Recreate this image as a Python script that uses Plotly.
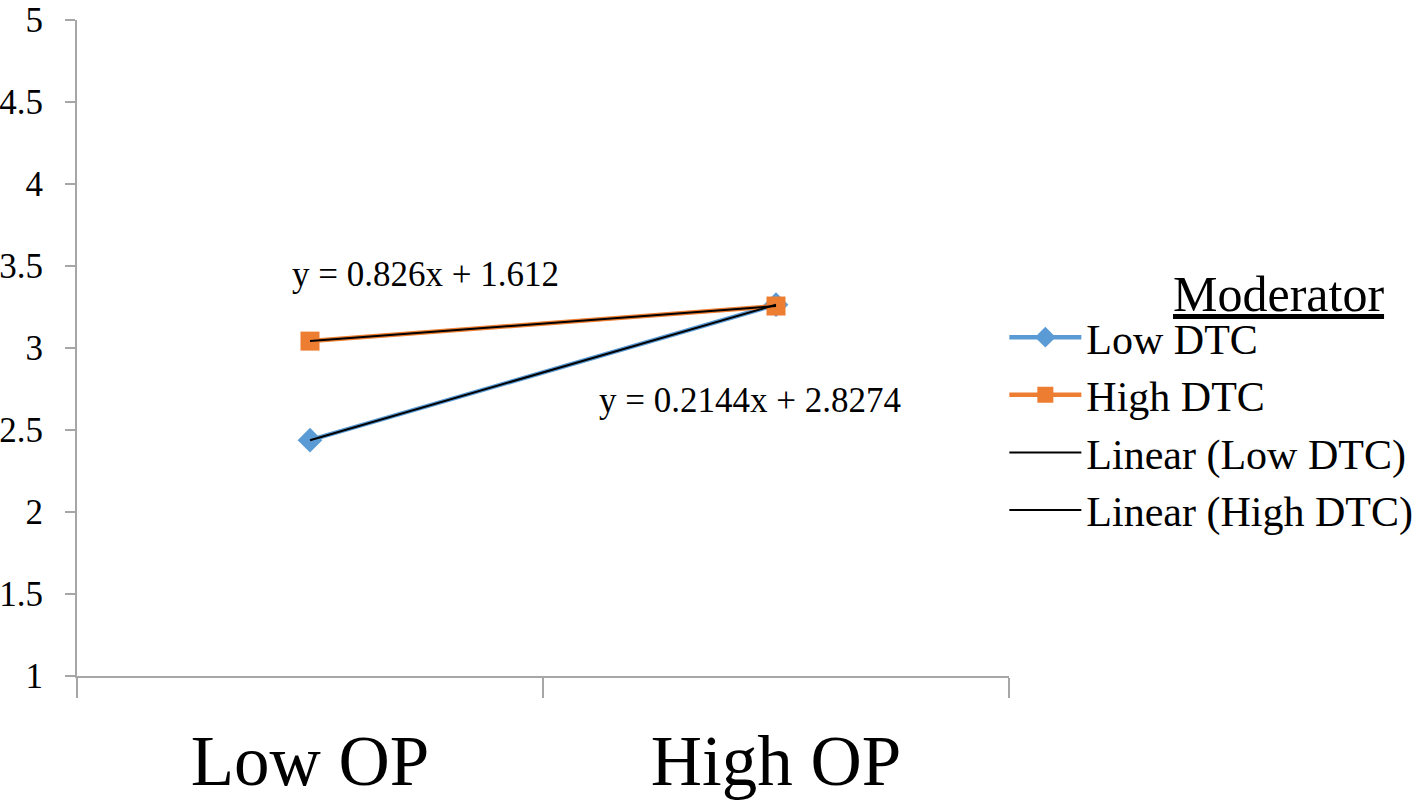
import numpy as np
import plotly.graph_objects as go

# Data
categories = ["Low OP", "High OP"]
low_dtc = [2.438, 3.264]
high_dtc = [3.042, 3.256]
eq_low = "y = 0.826x + 1.612"
eq_high = "y = 0.2144x + 2.8274"

FONT = "Liberation Serif, Times New Roman, serif"
BLUE = "#5B9BD5"
ORANGE = "#ED7D31"
AXIS = "#A6A6A6"

# linear trend lines (Excel style), x = 1, 2
xs = np.arange(1, len(categories) + 1)
fit_low = np.polyval(np.polyfit(xs, low_dtc, 1), xs)
fit_high = np.polyval(np.polyfit(xs, high_dtc, 1), xs)

fig = go.Figure()

fig.add_trace(go.Scatter(
    x=categories, y=low_dtc, name="Low DTC", mode="lines+markers",
    line=dict(color=BLUE, width=4.5),
    marker=dict(symbol="diamond", size=19, color=BLUE)
))
fig.add_trace(go.Scatter(
    x=categories, y=high_dtc, name="High DTC", mode="lines+markers",
    line=dict(color=ORANGE, width=4.5),
    marker=dict(symbol="square", size=19, color=ORANGE)
))
fig.add_trace(go.Scatter(
    x=categories, y=fit_low, name="Linear (Low DTC)", mode="lines",
    line=dict(color="black", width=2)
))
fig.add_trace(go.Scatter(
    x=categories, y=fit_high, name="Linear (High DTC)", mode="lines",
    line=dict(color="black", width=2)
))

# equation labels
fig.add_annotation(x=-0.043, y=3.45, xref="x", yref="y", text=eq_low,
                   showarrow=False, xanchor="left", yanchor="middle",
                   font=dict(family=FONT, size=35, color="black"))
fig.add_annotation(x=0.616, y=2.677, xref="x", yref="y", text=eq_high,
                   showarrow=False, xanchor="left", yanchor="middle",
                   font=dict(family=FONT, size=35, color="black"))

# legend heading
fig.add_annotation(x=1.2887, y=0.582, xref="paper", yref="paper",
                   text="<u>Moderator</u>", showarrow=False,
                   xanchor="center", yanchor="middle",
                   font=dict(family=FONT, size=50, color="black"))

fig.update_layout(
    width=1421, height=804,
    margin=dict(l=77, r=412, t=20, b=128, autoexpand=False),
    paper_bgcolor="white", plot_bgcolor="white",
    font=dict(family=FONT, color="black"),
    legend=dict(
        x=0.995, y=0.568, xanchor="left", yanchor="top",
        font=dict(family=FONT, size=42, color="black"),
        itemwidth=72, tracegroupgap=0, bgcolor="rgba(0,0,0,0)"
    ),
    xaxis=dict(
        type="category", range=[-0.5, 1.5], automargin=False,
        showline=True, linecolor=AXIS, linewidth=2,
        showgrid=False, zeroline=False,
        ticks="outside", tickson="boundaries", ticklen=20, tickwidth=2,
        tickcolor=AXIS, ticklabelstandoff=22,
        tickfont=dict(family=FONT, size=71, color="black")
    ),
    yaxis=dict(
        range=[1, 5], tick0=1, dtick=0.5, automargin=False,
        showline=True, linecolor=AXIS, linewidth=2,
        showgrid=False, zeroline=False,
        ticks="outside", ticklen=10, tickwidth=2, tickcolor=AXIS,
        ticklabelstandoff=15, ticklabeloverflow="allow",
        tickfont=dict(family=FONT, size=35, color="black")
    ),
)

# drop the default 8px page margin so the figure sits at the window corner
fig.write_html("out.html", config={"displayModeBar": False},
               post_script="document.body.style.margin='0';")
